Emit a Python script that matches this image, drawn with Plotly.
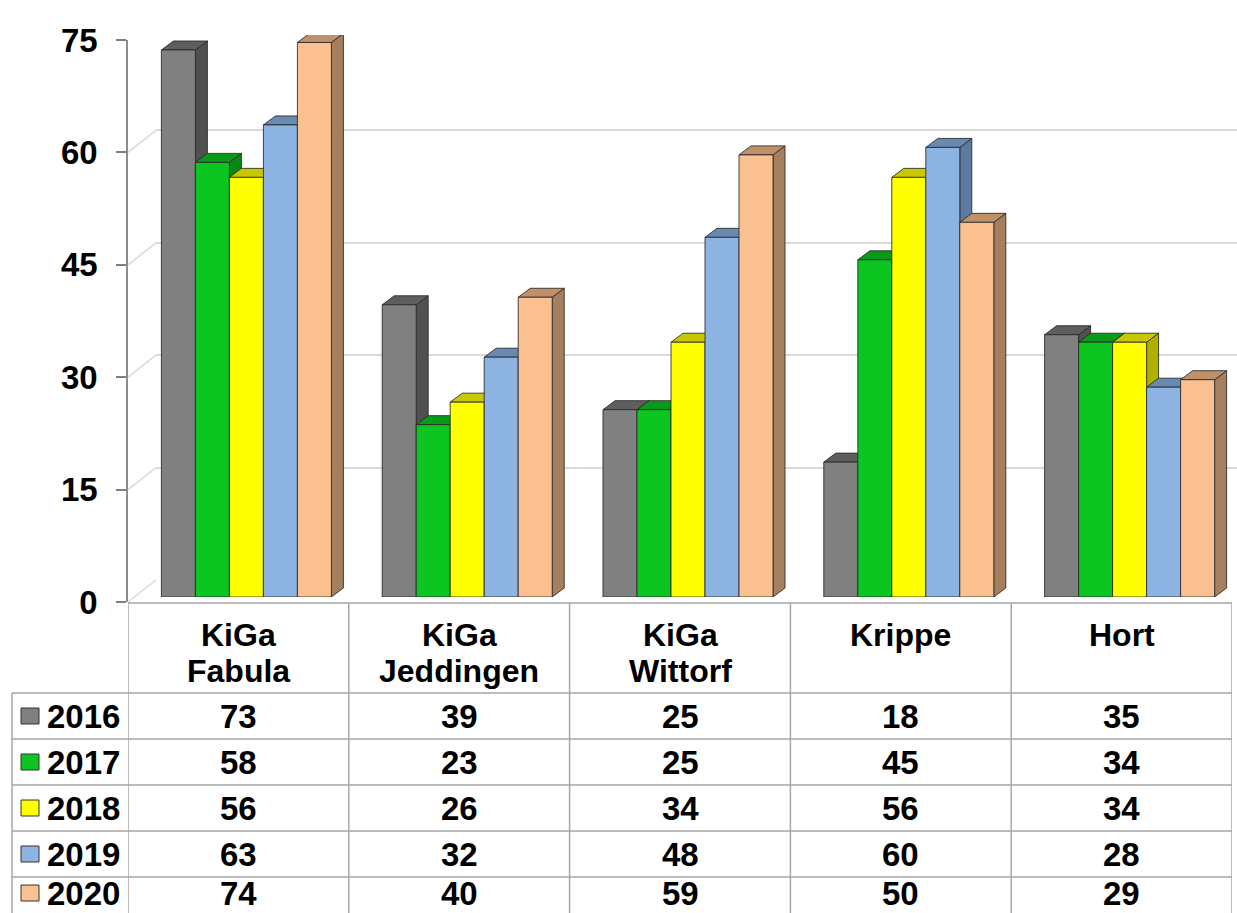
import plotly.graph_objects as go

# ---- data ----
categories = ["KiGa<br>Fabula", "KiGa<br>Jeddingen", "KiGa<br>Wittorf", "Krippe", "Hort"]
years = ["2016", "2017", "2018", "2019", "2020"]
v2016 = [73, 39, 25, 18, 35]
v2017 = [58, 23, 25, 45, 34]
v2018 = [56, 26, 34, 56, 34]
v2019 = [63, 32, 48, 60, 28]
v2020 = [74, 40, 59, 50, 29]
y_ticks = [0, 15, 30, 45, 60, 75]

series = [v2016, v2017, v2018, v2019, v2020]

# colours: front face, side face, top face
front_colors = ["#808080", "#0cc520", "#ffff00", "#8db3e2", "#fac08f"]
side_colors = ["#505050", "#078a16", "#b0b000", "#5d7aa0", "#a67f5f"]
top_colors = ["#5e5e5e", "#099a1a", "#c8c800", "#6a89b1", "#c09069"]
outline = "rgba(40,40,40,0.85)"
table_line = "#a6a6a6"
FONT = "Liberation Sans, Arial, sans-serif"

# ---- geometry (pixels) ----
W, H = 1237, 913
X0, X1 = 128, 1232          # front plane / table columns
Y0, Y1 = 602, 40            # value 0 and value 75
WALL_DX, WALL_DY = 28, 22   # back wall offset
BAR_SHIFT_X, BAR_SHIFT_Y = 8, 5
DEPTH_X, DEPTH_Y = 12, 9    # bar depth
YMAX = 75
N = len(categories)


def px(x):
    return x / W


def py(y):
    return 1 - y / H


# bar widths in category units
GROUP_W = 0.77
BW = GROUP_W / len(series)
DX = DEPTH_X * N / (X1 - X0)
DY = DEPTH_Y * YMAX / (Y0 - Y1)

fig = go.Figure()

# dummy trace so the back-wall grid subplot exists
fig.add_trace(go.Scatter(x=[], y=[], xaxis="x2", yaxis="y2", showlegend=False, hoverinfo="skip"))

# side and top faces (drawn under the front faces)
for j, vals in enumerate(series):
    off = -GROUP_W / 2 + j * BW
    sx, sy, tx, ty = [], [], [], []
    for c, v in enumerate(vals):
        xl = c + off
        xr = xl + BW
        sx += [xr, xr + DX, xr + DX, xr, xr, None]
        sy += [0, DY, v + DY, v, 0, None]
        tx += [xl, xl + DX, xr + DX, xr, xl, None]
        ty += [v, v + DY, v + DY, v, v, None]
    fig.add_trace(go.Scatter(x=sx, y=sy, fill="toself", fillcolor=side_colors[j], mode="lines",
                             line=dict(color=outline, width=1), xaxis="x3", yaxis="y3",
                             showlegend=False, hoverinfo="skip"))
    fig.add_trace(go.Scatter(x=tx, y=ty, fill="toself", fillcolor=top_colors[j], mode="lines",
                             line=dict(color=outline, width=1), xaxis="x3", yaxis="y3",
                             showlegend=False, hoverinfo="skip"))

# front faces
for j, vals in enumerate(series):
    fig.add_trace(go.Bar(
        x=list(range(N)), y=vals, width=BW, offset=-GROUP_W / 2 + j * BW,
        marker=dict(color=front_colors[j], line=dict(color=outline, width=1)),
        name=years[j], xaxis="x3", yaxis="y4", showlegend=False,
    ))

shapes = []
# diagonals from the axis ticks to the back wall
for t in y_ticks:
    shapes.append(dict(type="line", xref="paper", yref="y", ysizemode="pixel", yanchor=t,
                       x0=px(X0), x1=px(X0 + WALL_DX), y0=0, y1=WALL_DY,
                       line=dict(color="#d9d9d9", width=1.5), layer="below"))

# data table grid
row_tops = [693 + k * 46 for k in range(len(years))]
shapes.append(dict(type="line", xref="paper", yref="paper", x0=px(X0), x1=px(X1),
                   y0=py(Y0 + 1), y1=py(Y0 + 1), line=dict(color=table_line, width=1.5)))
for yt in row_tops:
    shapes.append(dict(type="line", xref="paper", yref="paper", x0=px(12), x1=px(X1),
                       y0=py(yt), y1=py(yt), line=dict(color=table_line, width=1.5)))
for i in range(N + 1):
    shapes.append(dict(type="line", xref="x", yref="paper", x0=i - 0.5, x1=i - 0.5,
                       y0=py(Y0 + 1), y1=0, line=dict(color=table_line, width=1.5)))
shapes.append(dict(type="line", xref="paper", yref="paper", x0=px(12), x1=px(12),
                   y0=py(row_tops[0]), y1=0, line=dict(color=table_line, width=1.5)))

annotations = []
head_font = dict(family=FONT, size=32, color="black", weight="bold")
num_font = dict(family=FONT, size=33, color="black", weight="bold")
for i, cat in enumerate(categories):
    for k, line in enumerate(cat.split("<br>")):
        annotations.append(dict(x=i, xref="x", y=py(635 + k * 36), yref="paper", text=line,
                                showarrow=False, font=head_font, xanchor="center", yanchor="middle"))
for j, vals in enumerate(series):
    yc = row_tops[j] + 23
    # last row is cut by the picture edge: keep its text inside
    text_yc = min(yc, H - 20)
    shapes.append(dict(type="rect", xref="paper", yref="paper", x0=px(21), x1=px(39),
                       y0=py(text_yc + 8), y1=py(text_yc - 8), fillcolor=front_colors[j],
                       line=dict(color="#333333", width=1)))
    annotations.append(dict(x=px(45), xref="paper", y=py(text_yc), yref="paper", text=years[j],
                            showarrow=False, font=num_font, xanchor="left", yanchor="middle"))
    for i, v in enumerate(vals):
        annotations.append(dict(x=i, xref="x", y=py(text_yc), yref="paper", text=str(v),
                                showarrow=False, font=num_font, xanchor="center", yanchor="middle"))

fig.update_layout(
    width=W, height=H, autosize=False,
    margin=dict(l=0, r=0, t=0, b=0, autoexpand=False),
    paper_bgcolor="white", plot_bgcolor="rgba(0,0,0,0)",
    barmode="overlay",
    font=dict(family=FONT),
    xaxis=dict(domain=[px(X0), px(X1)], range=[-0.5, N - 0.5], visible=False, anchor="y"),
    yaxis=dict(domain=[py(Y0), py(Y1)], range=[0, YMAX], tickvals=y_ticks, ticks="outside",
               ticklen=10, tickwidth=1.5, tickcolor="#7f7f7f", showline=True, linecolor="#8c8c8c",
               linewidth=1.5, showgrid=False, zeroline=False, anchor="x", ticklabelstandoff=12,
               tickfont=dict(family=FONT, size=33, color="black", weight="bold")),
    xaxis2=dict(domain=[px(X0 + WALL_DX), 1], range=[0, 1], visible=False, anchor="y2"),
    yaxis2=dict(domain=[py(Y0 - WALL_DY), py(Y1 - WALL_DY)], range=[0, YMAX], tickvals=y_ticks,
                showticklabels=False, ticks="", showgrid=True, gridcolor="#d9d9d9", gridwidth=1.5,
                zeroline=False, showline=False, anchor="x2"),
    xaxis3=dict(domain=[px(X0 + BAR_SHIFT_X), 1],
                range=[-0.5, -0.5 + N * (W - X0 - BAR_SHIFT_X) / (X1 - X0)],
                visible=False, anchor="y3"),
    yaxis3=dict(domain=[py(Y0 - BAR_SHIFT_Y), py(Y1 - BAR_SHIFT_Y)], range=[0, YMAX],
                visible=False, anchor="x3"),
    yaxis4=dict(overlaying="y3", range=[0, YMAX], visible=False, anchor="x3"),
    shapes=shapes,
    annotations=annotations,
)

fig.write_html("out.html", config={"displayModeBar": False},
               post_script="document.body.style.margin='0';")
